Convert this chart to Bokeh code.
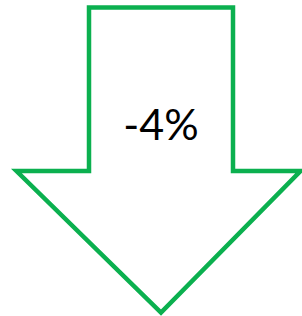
from bokeh.plotting import figure
from bokeh.models import Range1d, GlobalInlineStyleSheet
from bokeh.core.properties import value
from bokeh.embed import file_html
from bokeh.resources import INLINE

# Data
change_label = ["-4%"]
change_value = [-4]

# Arrow geometry (in page pixel units)
shaft_left, shaft_right = 88.5, 232.5
top, shoulder = 7, 170.5
head_left, head_right = 16, 300
tip_x, tip_y = 160.5, 312

arrow_x = [shaft_left, shaft_right, shaft_right, head_right, tip_x, head_left, shaft_left]
arrow_y = [top, top, shoulder, shoulder, tip_y, shoulder, shoulder]

W, H = 302, 316
p = figure(width=W, height=H, output_backend="svg", toolbar_location=None,
           x_range=Range1d(0, W), y_range=Range1d(H, 0))
p.stylesheets = [GlobalInlineStyleSheet(css="html,body{margin:0;padding:0;overflow:hidden;}")]
p.axis.visible = False
p.grid.visible = False
p.outline_line_color = None
p.min_border = 0
p.background_fill_color = "white"
p.border_fill_color = "white"

p.patch(arrow_x, arrow_y, fill_color=None, line_color="#0BB04F", line_width=4.5,
        line_join="miter")

p.text(x=[160.5], y=[123], text=change_label, text_font=value("Lato"),
       text_font_size="43px", text_align="center", text_baseline="middle",
       text_color="black")

open("out.html", "w").write(file_html(p, INLINE))
